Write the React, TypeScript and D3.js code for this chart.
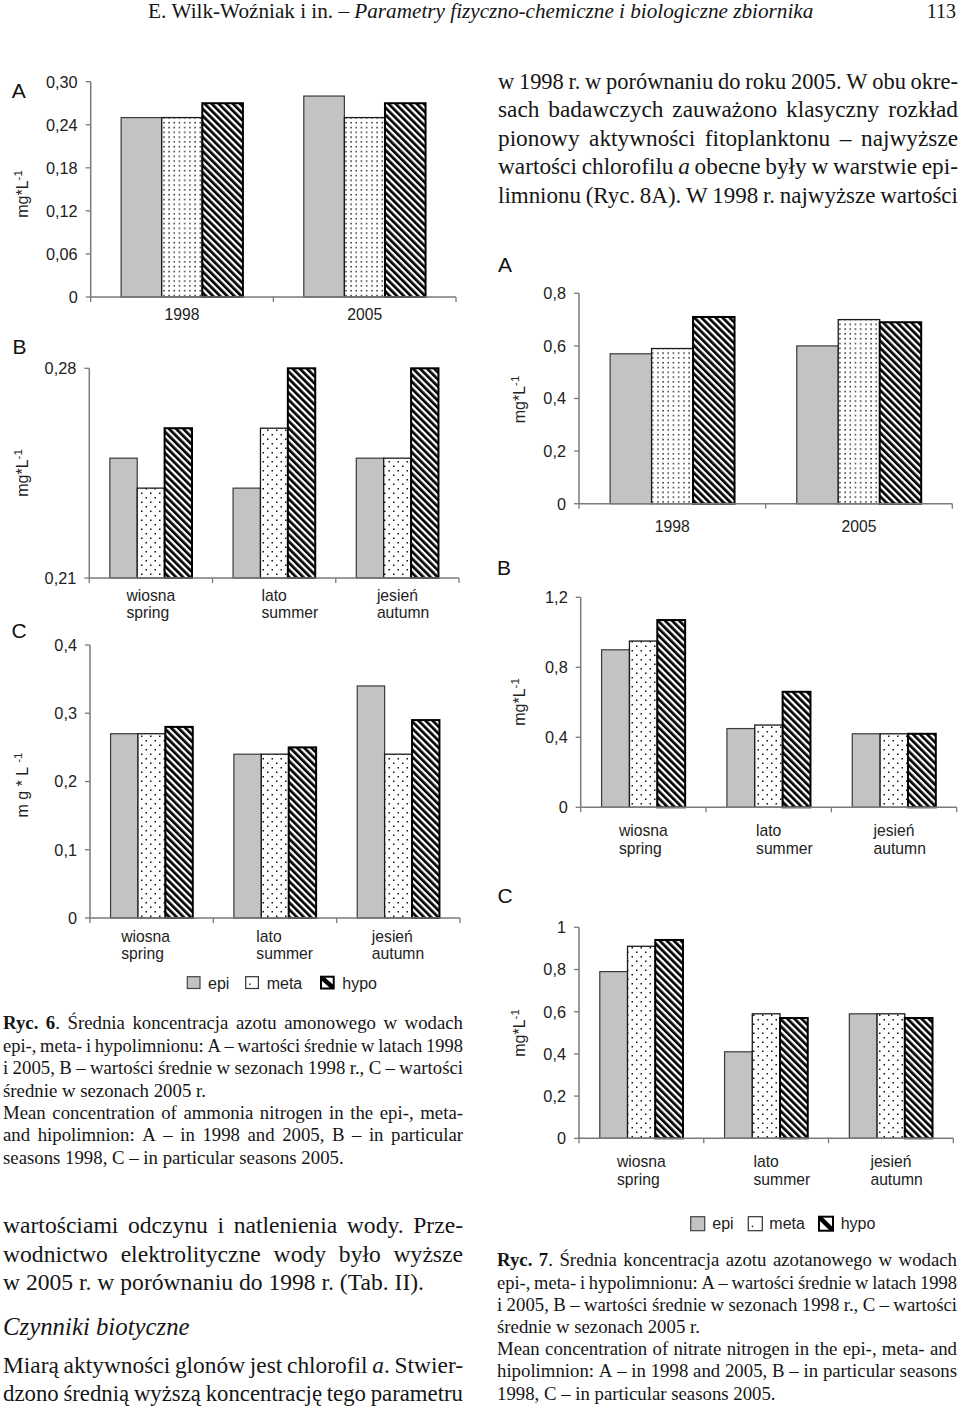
import React, { useEffect, useRef } from "react";
import * as d3 from "d3";

const W = 960;
const H = 1407;

// ---------- data ----------
const seriesNames = ["epi", "meta", "hypo"];
const yearCategories = ["1998", "2005"];
const seasonPl = ["wiosna", "lato", "jesień"];
const seasonEn = ["spring", "summer", "autumn"];

// Ryc. 6 – ammonium nitrogen (mg*L-1)
const nh4YearsEpi = [0.25, 0.28];
const nh4YearsMeta = [0.25, 0.25];
const nh4YearsHypo = [0.27, 0.27];
const nh4Seasons1998Epi = [0.25, 0.24, 0.25];
const nh4Seasons1998Meta = [0.24, 0.26, 0.25];
const nh4Seasons1998Hypo = [0.26, 0.28, 0.28];
const nh4Seasons2005Epi = [0.27, 0.24, 0.34];
const nh4Seasons2005Meta = [0.27, 0.24, 0.24];
const nh4Seasons2005Hypo = [0.28, 0.25, 0.29];

// Ryc. 7 – nitrate nitrogen (mg*L-1)
const no3YearsEpi = [0.57, 0.6];
const no3YearsMeta = [0.59, 0.7];
const no3YearsHypo = [0.71, 0.69];
const no3Seasons1998Epi = [0.9, 0.45, 0.42];
const no3Seasons1998Meta = [0.95, 0.47, 0.42];
const no3Seasons1998Hypo = [1.07, 0.66, 0.42];
const no3Seasons2005Epi = [0.79, 0.41, 0.59];
const no3Seasons2005Meta = [0.91, 0.59, 0.59];
const no3Seasons2005Hypo = [0.94, 0.57, 0.57];

// tick values / labels
const ticks6A = [0, 0.06, 0.12, 0.18, 0.24, 0.3];
const tickLabels6A = ["0", "0,06", "0,12", "0,18", "0,24", "0,30"];
const ticks6B = [0.21, 0.28];
const tickLabels6B = ["0,21", "0,28"];
const ticks6C = [0, 0.1, 0.2, 0.3, 0.4];
const tickLabels6C = ["0", "0,1", "0,2", "0,3", "0,4"];
const ticks7A = [0, 0.2, 0.4, 0.6, 0.8];
const tickLabels7A = ["0", "0,2", "0,4", "0,6", "0,8"];
const ticks7B = [0, 0.4, 0.8, 1.2];
const tickLabels7B = ["0", "0,4", "0,8", "1,2"];
const ticks7C = [0, 0.2, 0.4, 0.6, 0.8, 1];
const tickLabels7C = ["0", "0,2", "0,4", "0,6", "0,8", "1"];

// page text
const headerText = "E. Wilk-Woźniak i in. – _Parametry fizyczno-chemiczne i biologiczne zbiornika_";
const pageNumber = "113";
const topRightLines = [
  "w 1998 r. w porównaniu do roku 2005. W obu okre-",
  "sach badawczych zauważono klasyczny rozkład",
  "pionowy aktywności fitoplanktonu – najwyższe",
  "wartości chlorofilu _a_ obecne były w warstwie epi-",
  "limnionu (Ryc. 8A). W 1998 r. najwyższe wartości",
];
const caption6Lines = [
  "*Ryc. 6*. Średnia koncentracja azotu amonowego w wodach",
  "epi-, meta- i hypolimnionu: A – wartości średnie w latach 1998",
  "i 2005, B – wartości średnie w sezonach 1998 r., C – wartości",
  "średnie w sezonach 2005 r.",
  "Mean concentration of ammonia nitrogen in the epi-, meta-",
  "and hipolimnion: A – in 1998 and 2005, B – in particular",
  "seasons 1998, C – in particular seasons 2005.",
];
const caption6Justify = [true, true, true, false, true, true, false];
const caption7Lines = [
  "*Ryc. 7*. Średnia koncentracja azotu azotanowego w wodach",
  "epi-, meta- i hypolimnionu: A – wartości średnie w latach 1998",
  "i 2005, B – wartości średnie w sezonach 1998 r., C – wartości",
  "średnie w sezonach 2005 r.",
  "Mean concentration of nitrate nitrogen in the epi-, meta- and",
  "hipolimnion: A – in 1998 and 2005, B – in particular seasons",
  "1998, C – in particular seasons 2005.",
];
const caption7Justify = [true, true, true, false, true, true, false];
const bodyLines1 = [
  "wartościami odczynu i natlenienia wody. Prze-",
  "wodnictwo elektrolityczne wody było wyższe",
  "w 2005 r. w porównaniu do 1998 r. (Tab. II).",
];
const bodyJustify1 = [true, true, false];
const sectionTitle = "_Czynniki biotyczne_";
const bodyLines2 = [
  "Miarą aktywności glonów jest chlorofil _a_. Stwier-",
  "dzono średnią wyższą koncentrację tego parametru",
];

const SANS = '"Liberation Sans", Arial, Helvetica, sans-serif';
const SERIF = '"Liberation Serif", "Times New Roman", serif';

type Run = { t: string; b: boolean; i: boolean };

function parseWords(s: string): Run[][] {
  const words: Run[][] = [];
  let b = false;
  let it = false;
  let cur: Run[] = [];
  let buf = "";
  const flush = () => {
    if (buf) {
      cur.push({ t: buf, b, i: it });
      buf = "";
    }
  };
  for (const ch of s) {
    if (ch === "*") {
      flush();
      b = !b;
    } else if (ch === "_") {
      flush();
      it = !it;
    } else if (ch === " ") {
      flush();
      if (cur.length) {
        words.push(cur);
        cur = [];
      }
    } else buf += ch;
  }
  flush();
  if (cur.length) words.push(cur);
  return words;
}

let measureCtx: CanvasRenderingContext2D | null = null;
function measure(size: number, r: { t: string; b: boolean; i: boolean }) {
  if (!measureCtx) measureCtx = document.createElement("canvas").getContext("2d");
  const ctx = measureCtx!;
  ctx.font = `${r.i ? "italic " : ""}${r.b ? "bold " : ""}${size}px ${SERIF}`;
  return ctx.measureText(r.t).width;
}

// draws a line of serif text; justified lines keep a minimum word gap by
// compressing the glyphs horizontally when the line would be overfull
function drawLine(g: any, s: string, x0: number, x1: number, y: number, size: number, justify: boolean) {
  const words = parseWords(s);
  const widths = words.map((w) => d3.sum(w, (r) => measure(size, r)));
  const sp = measure(size, { t: " ", b: false, i: false });
  const total = d3.sum(widths);
  const n = words.length;
  let sx = 1;
  let gap = sp;
  if (justify && n > 1) {
    const minGap = 0.2 * size;
    const avail = x1 - x0;
    if (total + (n - 1) * minGap > avail) {
      sx = (avail - (n - 1) * minGap) / total;
      gap = minGap;
    } else {
      gap = (avail - total) / (n - 1);
    }
  }
  const lg = g.append("g").attr("transform", `translate(${x0},${y})`);
  let x = 0;
  words.forEach((w, k) => {
    const t = lg
      .append("text")
      .attr("transform", `translate(${x},0) scale(${sx},1)`)
      .attr("font-family", SERIF)
      .attr("font-size", size)
      .attr("fill", "#151515");
    w.forEach((r) => {
      t.append("tspan")
        .text(r.t)
        .attr("font-weight", r.b ? "bold" : null)
        .attr("font-style", r.i ? "italic" : null);
    });
    x += widths[k] * sx + gap;
  });
}

type ChartCfg = {
  cats: string[][];
  values: number[][];
  domain: [number, number];
  ticks: number[];
  tickLabels: string[];
  x0: number;
  x1: number;
  yTop: number;
  yBot: number;
  letter: string;
  letterX: number;
  letterY: number;
  ylabX: number;
  ylabY: number;
  ylabSpaced?: boolean;
  labBase: number;
  labShift: number;
  dense: boolean;
};

const yearCats = yearCategories.map((c) => [c]);
const seasonCats = seasonPl.map((c, i) => [c, seasonEn[i]]);

const charts: ChartCfg[] = [
  {
    cats: yearCats,
    values: [nh4YearsEpi, nh4YearsMeta, nh4YearsHypo],
    domain: [0, 0.3],
    ticks: ticks6A,
    tickLabels: tickLabels6A,
    x0: 90.7, x1: 456, yTop: 81.7, yBot: 297,
    letter: "A", letterX: 18.7, letterY: 97.7,
    ylabX: 27.5, ylabY: 194,
    labBase: 320, labShift: 0, dense: true,
  },
  {
    cats: seasonCats,
    values: [nh4Seasons1998Epi, nh4Seasons1998Meta, nh4Seasons1998Hypo],
    domain: [0.21, 0.28],
    ticks: ticks6B,
    tickLabels: tickLabels6B,
    x0: 89.3, x1: 459, yTop: 368.3, yBot: 578,
    letter: "B", letterX: 19.5, letterY: 354.3,
    ylabX: 27.5, ylabY: 473,
    labBase: 600.5, labShift: 0, dense: false,
  },
  {
    cats: seasonCats,
    values: [nh4Seasons2005Epi, nh4Seasons2005Meta, nh4Seasons2005Hypo],
    domain: [0, 0.4],
    ticks: ticks6C,
    tickLabels: tickLabels6C,
    x0: 90, x1: 460, yTop: 645, yBot: 918,
    letter: "C", letterX: 19, letterY: 638,
    ylabX: 27.5, ylabY: 785, ylabSpaced: true,
    labBase: 941.7, labShift: -6, dense: false,
  },
  {
    cats: yearCats,
    values: [no3YearsEpi, no3YearsMeta, no3YearsHypo],
    domain: [0, 0.8],
    ticks: ticks7A,
    tickLabels: tickLabels7A,
    x0: 579, x1: 952.3, yTop: 293.3, yBot: 503.7,
    letter: "A", letterX: 505, letterY: 271.7,
    ylabX: 525, ylabY: 399.5,
    labBase: 531.7, labShift: 0, dense: true,
  },
  {
    cats: seasonCats,
    values: [no3Seasons1998Epi, no3Seasons1998Meta, no3Seasons1998Hypo],
    domain: [0, 1.2],
    ticks: ticks7B,
    tickLabels: tickLabels7B,
    x0: 580.7, x1: 956.7, yTop: 597.3, yBot: 807.3,
    letter: "B", letterX: 504, letterY: 575,
    ylabX: 525, ylabY: 702,
    labBase: 836, labShift: 0, dense: false,
  },
  {
    cats: seasonCats,
    values: [no3Seasons2005Epi, no3Seasons2005Meta, no3Seasons2005Hypo],
    domain: [0, 1],
    ticks: ticks7C,
    tickLabels: tickLabels7C,
    x0: 579, x1: 953.3, yTop: 927.3, yBot: 1138.3,
    letter: "C", letterX: 505, letterY: 902.7,
    ylabX: 525, ylabY: 1033,
    labBase: 1167.3, labShift: 0, dense: false,
  },
];

const legendLayouts = [
  { boxX: [187.3, 245.7, 321], textX: [208, 266.7, 342.3], boxY: 976.7, boxW: 12.7, boxH: 11.8, base: 988.6 },
  { boxX: [690.7, 748.3, 819], textX: [712.3, 769.3, 840.7], boxY: 1216.7, boxW: 14, boxH: 14, base: 1229 },
];

const EPI_FILL = "#c3c3c3";
const AXIS = "#7a7a7a";
const LABEL = "#222";

function drawChart(svg: any, c: ChartCfg) {
  const g = svg.append("g");
  const y = d3.scaleLinear().domain(c.domain).range([c.yBot, c.yTop]);
  const x = d3
    .scaleBand<string>()
    .domain(c.cats.map((_, i) => String(i)))
    .range([c.x0, c.x1])
    .paddingInner(0)
    .paddingOuter(0);
  const inner = d3
    .scaleBand<string>()
    .domain(seriesNames)
    .range([0, x.bandwidth()])
    .paddingInner(0)
    .paddingOuter(0.75);

  const fills = [EPI_FILL, c.dense ? "url(#dotsDense)" : "url(#dotsSparse)", "url(#stripes)"];
  const strokes = ["#3a3a3a", "#1a1a1a", "#000"];
  const sw = [1.2, 1.3, 2];

  c.cats.forEach((_, i) => {
    seriesNames.forEach((s, k) => {
      const v = c.values[k][i];
      g.append("rect")
        .attr("x", (x(String(i)) as number) + (inner(s) as number))
        .attr("y", y(v))
        .attr("width", inner.bandwidth())
        .attr("height", c.yBot - y(v))
        .attr("fill", fills[k])
        .attr("stroke", strokes[k])
        .attr("stroke-width", sw[k]);
    });
  });

  // y axis
  g.append("line")
    .attr("x1", c.x0).attr("x2", c.x0)
    .attr("y1", y(c.domain[1])).attr("y2", c.yBot)
    .attr("stroke", AXIS).attr("stroke-width", 1.5);
  // x axis
  g.append("line")
    .attr("x1", c.x0).attr("x2", c.x1)
    .attr("y1", c.yBot).attr("y2", c.yBot)
    .attr("stroke", AXIS).attr("stroke-width", 1.5);

  c.ticks.forEach((t, k) => {
    g.append("line")
      .attr("x1", c.x0 - 5).attr("x2", c.x0)
      .attr("y1", y(t)).attr("y2", y(t))
      .attr("stroke", AXIS).attr("stroke-width", 1.3);
    g.append("text")
      .attr("x", c.x0 - 13)
      .attr("y", y(t) + 5.8)
      .attr("text-anchor", "end")
      .attr("font-family", SANS)
      .attr("font-size", 16.3)
      .attr("fill", LABEL)
      .text(c.tickLabels[k]);
  });

  d3.range(c.cats.length + 1).forEach((k) => {
    const xx = c.x0 + k * x.step();
    g.append("line")
      .attr("x1", xx).attr("x2", xx)
      .attr("y1", c.yBot).attr("y2", c.yBot + 5)
      .attr("stroke", AXIS).attr("stroke-width", 1.3);
  });

  c.cats.forEach((lines, i) => {
    const cx = (x(String(i)) as number) + x.bandwidth() / 2 + c.labShift;
    const t1 = g
      .append("text")
      .attr("x", cx)
      .attr("y", c.labBase)
      .attr("text-anchor", "middle")
      .attr("font-family", SANS)
      .attr("font-size", 15.7)
      .attr("fill", LABEL)
      .text(lines[0]);
    if (lines[1]) {
      const w = (t1.node() as SVGTextElement).getComputedTextLength();
      g.append("text")
        .attr("x", cx - w / 2)
        .attr("y", c.labBase + 17.5)
        .attr("font-family", SANS)
        .attr("font-size", 15.7)
        .attr("fill", LABEL)
        .text(lines[1]);
    }
  });

  g.append("text")
    .attr("x", c.letterX)
    .attr("y", c.letterY)
    .attr("text-anchor", "middle")
    .attr("font-family", SANS)
    .attr("font-size", 21)
    .attr("fill", "#111")
    .text(c.letter);

  const yl = g
    .append("text")
    .attr("transform", `translate(${c.ylabX},${c.ylabY}) rotate(-90)`)
    .attr("text-anchor", "middle")
    .attr("font-family", SANS)
    .attr("font-size", 16)
    .attr("fill", LABEL);
  yl.append("tspan").text(c.ylabSpaced ? "m g * L" : "mg*L");
  yl.append("tspan")
    .attr("dy", -6)
    .attr("dx", c.ylabSpaced ? 4 : 0)
    .attr("font-size", 11.5)
    .text("-1");
}

function drawLegend(svg: any, L: (typeof legendLayouts)[number]) {
  const g = svg.append("g");
  seriesNames.forEach((s, k) => {
    const bx = L.boxX[k];
    const by = L.boxY;
    const w = L.boxW;
    const h = L.boxH;
    if (k === 0) {
      g.append("rect").attr("x", bx).attr("y", by).attr("width", w).attr("height", h)
        .attr("fill", EPI_FILL).attr("stroke", "#444").attr("stroke-width", 1.2);
    } else if (k === 1) {
      g.append("rect").attr("x", bx).attr("y", by).attr("width", w).attr("height", h)
        .attr("fill", "#fff").attr("stroke", "#333").attr("stroke-width", 1.2);
      g.append("rect").attr("x", bx + 3.5).attr("y", by + h - 5).attr("width", 1.4).attr("height", 1.4).attr("fill", "#111");
    } else {
      g.append("rect").attr("x", bx).attr("y", by).attr("width", w).attr("height", h)
        .attr("fill", "#fff").attr("stroke", "#000").attr("stroke-width", 2);
      const d = 3.2;
      g.append("polygon")
        .attr(
          "points",
          [
            [bx, by], [bx + d, by], [bx + w, by + h - d], [bx + w, by + h], [bx + w - d, by + h], [bx, by + d],
          ].map((p) => p.join(",")).join(" ")
        )
        .attr("fill", "#000");
    }
    g.append("text")
      .attr("x", L.textX[k])
      .attr("y", L.base)
      .attr("font-family", SANS)
      .attr("font-size", 16)
      .attr("fill", LABEL)
      .text(s);
  });
}

export default function App() {
  const ref = useRef<SVGSVGElement>(null);
  useEffect(() => {
    const svg = d3.select(ref.current);
    svg.selectAll("*").remove();
    svg.append("rect").attr("width", W).attr("height", H).attr("fill", "#fff");

    const defs = svg.append("defs");
    const pd = defs.append("pattern").attr("id", "dotsDense").attr("patternUnits", "userSpaceOnUse")
      .attr("width", 5.2).attr("height", 4.8);
    pd.append("rect").attr("width", 5.2).attr("height", 4.8).attr("fill", "#fff");
    pd.append("rect").attr("x", 2).attr("y", 2).attr("width", 1.4).attr("height", 1.4).attr("fill", "#111");

    const ps = defs.append("pattern").attr("id", "dotsSparse").attr("patternUnits", "userSpaceOnUse")
      .attr("width", 9).attr("height", 9);
    ps.append("rect").attr("width", 9).attr("height", 9).attr("fill", "#fff");
    ps.append("rect").attr("x", 1.5).attr("y", 2).attr("width", 1.5).attr("height", 1.5).attr("fill", "#111");
    ps.append("rect").attr("x", 6).attr("y", 6.5).attr("width", 1.5).attr("height", 1.5).attr("fill", "#111");

    const st = defs.append("pattern").attr("id", "stripes").attr("patternUnits", "userSpaceOnUse")
      .attr("width", 5).attr("height", 5).attr("patternTransform", "rotate(-45)");
    st.append("rect").attr("width", 5).attr("height", 5).attr("fill", "#fff");
    st.append("rect").attr("x", 0).attr("width", 2.7).attr("height", 5).attr("fill", "#000");

    // header
    const hg = svg.append("g");
    drawLine(hg, headerText, 148, 813, 17.5, 21.2, false);
    hg.append("text").attr("x", 956).attr("y", 17.5).attr("text-anchor", "end")
      .attr("font-family", SERIF).attr("font-size", 20).attr("fill", "#151515").text(pageNumber);

    // top right paragraph
    const tg = svg.append("g");
    topRightLines.forEach((l, i) => drawLine(tg, l, 498, 958, 89 + i * 28.4, 23.3, true));

    charts.forEach((c) => drawChart(svg, c));
    legendLayouts.forEach((L) => drawLegend(svg, L));

    // captions
    const cg = svg.append("g");
    caption6Lines.forEach((l, i) => drawLine(cg, l, 3, 463, 1029.3 + i * 22.4, 18.8, caption6Justify[i]));
    caption7Lines.forEach((l, i) => drawLine(cg, l, 497, 957, 1266.3 + i * 22.2, 18.8, caption7Justify[i]));

    // bottom-left body
    bodyLines1.forEach((l, i) => drawLine(cg, l, 3, 463, 1233.3 + i * 28.2, 23.6, bodyJustify1[i]));
    drawLine(cg, sectionTitle, 3, 463, 1335, 24.8, false);
    bodyLines2.forEach((l, i) => drawLine(cg, l, 3, 463, 1372.7 + i * 28.3, 23.6, true));
  }, []);
  return (
    <svg
      ref={ref}
      width={W}
      height={H}
      style={{ position: "absolute", left: 0, top: 0, display: "block", background: "#fff" }}
    />
  );
}
